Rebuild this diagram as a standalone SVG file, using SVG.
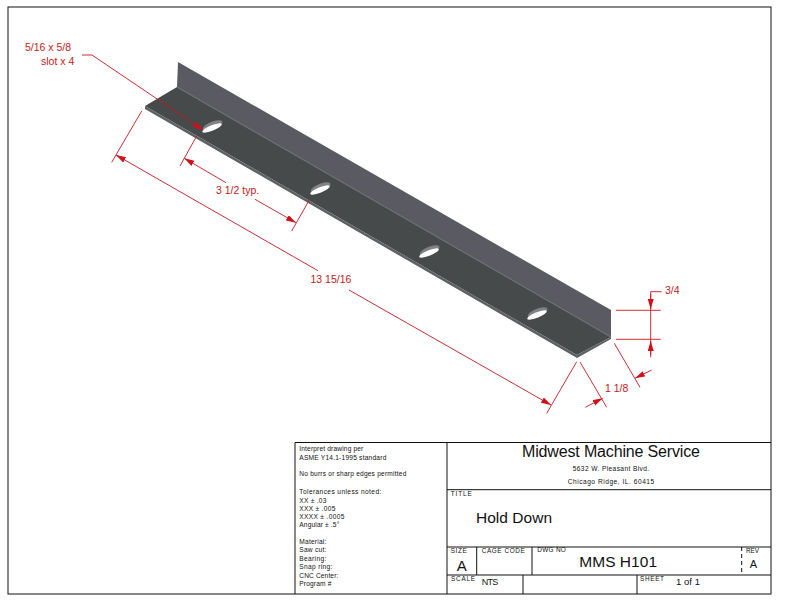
<svg xmlns="http://www.w3.org/2000/svg" width="799" height="600" viewBox="0 0 799 600">
<style>
text{font-family:"Liberation Sans",Arial,sans-serif;fill:#111}
.r{font-size:10.5px;fill:#c41a22}
.s{font-size:6.6px}
.l{font-size:6.4px}
.b{fill:none;stroke:#111;stroke-width:1}
.d{fill:none;stroke:#c8161e;stroke-width:.9}
.a{marker-end:url(#arr)}
</style>
<defs>
<marker id="arr" markerUnits="userSpaceOnUse" markerWidth="11" markerHeight="7" refX="10" refY="3" orient="auto"><path d="M0 0L10 3L0 6Z" fill="#d0101a"/></marker>
<g id="slot"><ellipse cx="1.500" cy="-2" rx="10.500" ry="3.800" fill="#808286" transform="rotate(-22)"/><ellipse rx="10.500" ry="2.800" fill="#fdfdfd" transform="rotate(-22)"/></g>
</defs>
<rect width="799" height="600" fill="#fff"/>
<rect id="border" class="b" x="8" y="7" width="763" height="587"/>
<g id="part">
<path d="M178 62L611 310L611 337L177 87Z" fill="#5a5b62"/>
<path d="M177 87L611 337L577 355L145 106Z" fill="#474a4b"/>
<path d="M145 106L577 355L611 337L611 339L577 358L145 109Z" fill="#5e6064"/>
<path d="M177 87L611 337" fill="none" stroke="#6c6e72" stroke-width="1.200"/>
<use href="#slot" x="212" y="128"/>
<use href="#slot" x="320" y="190"/>
<use href="#slot" x="429" y="253"/>
<use href="#slot" x="537" y="315"/>
</g>
<g id="dimensions">
<path class="d a" d="M82 55H92L203 130"/>
<path class="d" d="M141.700 111L111.700 162.300"/>
<path class="d a" d="M318 270.700L116 155"/>
<path class="d a" d="M349 290L551 405"/>
<path class="d" d="M576.700 361.700L546.700 413.300M580 362L606.700 407.300"/>
<path class="d" d="M196.700 136L180 166M309.300 200L291.700 231"/>
<path class="d a" d="M226 182.700L184.300 158.300"/>
<path class="d a" d="M255 199.300L296 222.700"/>
<path class="d a" d="M585.300 407.300L602.700 398.300"/>
<path class="d a" d="M651.700 370L635 378.300"/>
<path class="d" d="M614.300 343.300L640 387.300"/>
<path class="d" d="M616 310.300H660.700M616 339.300H660.700"/>
<path class="d" d="M661.700 291.700H650.700V357.300"/>
<path class="d a" d="M650.700 294L650.700 309"/>
<path class="d a" d="M650.700 355L650.700 341"/>
<text class="r" x="25" y="50.700">5/16 x 5/8</text>
<text class="r" x="41" y="65">slot x 4</text>
<text class="r" x="216" y="194">3 1/2 typ.</text>
<text class="r" x="310.500" y="283">13 15/16</text>
<text class="r" x="605" y="391.700">1 1/8</text>
<text class="r" x="665" y="294">3/4</text>
</g>
<g id="title-block">
<path class="b" d="M295 594V442.500H771M447 442.500V594M447 489.700H771M447 547H771M447 575H771M476.700 547V575M532 547V575M523 575V594M637 575V594"/>
<path class="b" d="M741.700 547V575" stroke-dasharray="4 3"/>
<text class="s" x="299.300" y="451.300" textLength="64">Interpret drawing per</text>
<text class="s" x="299.300" y="460" textLength="87">ASME Y14.1-1995 standard</text>
<text class="s" x="299.300" y="476.300" textLength="107">No burrs or sharp edges permitted</text>
<text class="s" x="299.300" y="493.700" textLength="82">Tolerances unless noted:</text>
<text class="s" x="299.300" y="502.700" textLength="27">XX ± .03</text>
<text class="s" x="299.300" y="510.700" textLength="36">XXX ± .005</text>
<text class="s" x="299.300" y="519" textLength="45">XXXX ± .0005</text>
<text class="s" x="299.300" y="527.300" textLength="40">Angular ± .5°</text>
<text class="s" x="299.300" y="544" textLength="27">Material:</text>
<text class="s" x="299.300" y="552.300" textLength="27">Saw cut:</text>
<text class="s" x="299.300" y="560.700" textLength="27">Bearing:</text>
<text class="s" x="299.300" y="569" textLength="33">Snap ring:</text>
<text class="s" x="299.300" y="578" textLength="39">CNC Center:</text>
<text class="s" x="299.300" y="586" textLength="32">Program #</text>
<text x="522" y="457.300" font-size="16" textLength="178">Midwest Machine Service</text>
<text class="s" x="572.700" y="471.300" textLength="76.500">5632 W. Pleasant Blvd.</text>
<text class="s" x="567.700" y="483.700" textLength="86.500">Chicago Ridge, IL. 60415</text>
<text class="l" x="450.700" y="496.300" textLength="21">TITLE</text>
<text x="476" y="523" font-size="15.500" textLength="76">Hold Down</text>
<text class="l" x="450.700" y="553" textLength="16">SIZE</text>
<text x="456.700" y="570.700" font-size="15">A</text>
<text class="l" x="481.700" y="553" textLength="43">CAGE CODE</text>
<text class="l" x="537.300" y="552" textLength="28.500">DWG NO</text>
<text x="579.300" y="567.300" font-size="15.500" textLength="77.700">MMS H101</text>
<text class="l" x="746" y="552.700" textLength="13">REV</text>
<text x="749.700" y="568" font-size="11">A</text>
<text class="l" x="451" y="580.700" textLength="24">SCALE</text>
<text x="481.700" y="585.300" font-size="9" textLength="16.500">NTS</text>
<text class="l" x="640" y="580.700" textLength="24">SHEET</text>
<text x="676" y="585.300" font-size="9.500" textLength="24">1 of 1</text>
</g>
</svg>
